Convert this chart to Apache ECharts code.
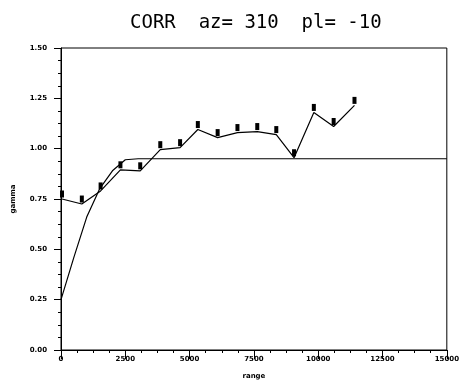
<!DOCTYPE html>
<html>
<head>
<meta charset="utf-8">
<script src="https://cdn.jsdelivr.net/npm/echarts@6/dist/echarts.min.js"></script>
<style>
  html, body { margin: 0; padding: 0; background: #fff; }
  #chart { width: 462px; height: 385px; }
</style>
</head>
<body>
<div id="chart"></div>
<script>
// observed variogram points (lag, gamma)
var lagValues = [40, 810, 1540, 2310, 3080, 3860, 4630, 5320, 6090, 6860, 7630, 8370, 9060, 9830, 10600, 11410]
var gammaValues = [0.75, 0.725, 0.79, 0.895, 0.89, 0.995, 1.005, 1.095, 1.055, 1.08, 1.085, 1.07, 0.955, 1.18, 1.11, 1.215]

// fitted model
var modelLags = [0, 500, 1000, 1500, 2000, 2500, 3000, 15000]
var modelGamma = [0.25, 0.46, 0.66, 0.8, 0.89, 0.945, 0.95, 0.95]

var xTicks = ['0', '2500', '5000', '7500', '10000', '12500', '15000']
var yTicks = ['0.00', '0.25', '0.50', '0.75', '1.00', '1.25', '1.50']

var chart = echarts.init(document.getElementById('chart'))

var observed = lagValues.map(function (v, i) { return [v, gammaValues[i]] })
var model = modelLags.map(function (v, i) { return [v, modelGamma[i]] })

var labelStyle = {
  fontSize: 7,
  fontWeight: 'bold',
  fontFamily: 'DejaVu Sans',
  color: '#000'
}

chart.setOption({
  animation: false,
  backgroundColor: '#fff',
  title: {
    text: 'CORR  az= 310  pl= -10',
    left: 125,
    top: 9,
    textStyle: {
      fontSize: 19,
      fontWeight: 'normal',
      fontFamily: 'DejaVu Sans Mono',
      color: '#000'
    }
  },
  grid: {
    left: 61,
    right: 10,
    top: 48,
    bottom: 35,
    show: true,
    borderColor: '#000',
    borderWidth: 1
  },
  xAxis: {
    type: 'value',
    min: 0,
    max: 15000,
    interval: 2500,
    name: 'range',
    nameLocation: 'middle',
    nameGap: 23,
    nameTextStyle: labelStyle,
    axisLine: { lineStyle: { color: '#000', width: 1 } },
    axisTick: { length: 9, lineStyle: { color: '#000' } },
    minorTick: { show: true, splitNumber: 4, length: 3, lineStyle: { color: '#000' } },
    splitLine: { show: false },
    axisLabel: Object.assign({
      margin: 6,
      formatter: function (value) {
        return xTicks[Math.round(value / 2500)]
      }
    }, labelStyle)
  },
  yAxis: {
    type: 'value',
    min: 0,
    max: 1.5,
    interval: 0.25,
    name: 'gamma',
    nameLocation: 'middle',
    nameGap: 44,
    nameTextStyle: labelStyle,
    axisLine: { lineStyle: { color: '#000', width: 1 } },
    axisTick: { length: 7, lineStyle: { color: '#000' } },
    minorTick: { show: true, splitNumber: 4, length: 3, lineStyle: { color: '#000' } },
    splitLine: { show: false },
    axisLabel: Object.assign({
      margin: 14,
      formatter: function (value) {
        return yTicks[Math.round(value / 0.25)]
      }
    }, labelStyle)
  },
  series: [
    {
      name: 'model',
      type: 'line',
      data: model,
      symbol: 'none',
      smooth: false,
      lineStyle: { color: '#000', width: 1.2 }
    },
    {
      name: 'observed',
      type: 'line',
      data: observed,
      symbol: 'rect',
      symbolSize: [4, 7],
      symbolOffset: [0, -5],
      itemStyle: { color: '#000' },
      lineStyle: { color: '#000', width: 1.2 }
    }
  ]
})
</script>
</body>
</html>
